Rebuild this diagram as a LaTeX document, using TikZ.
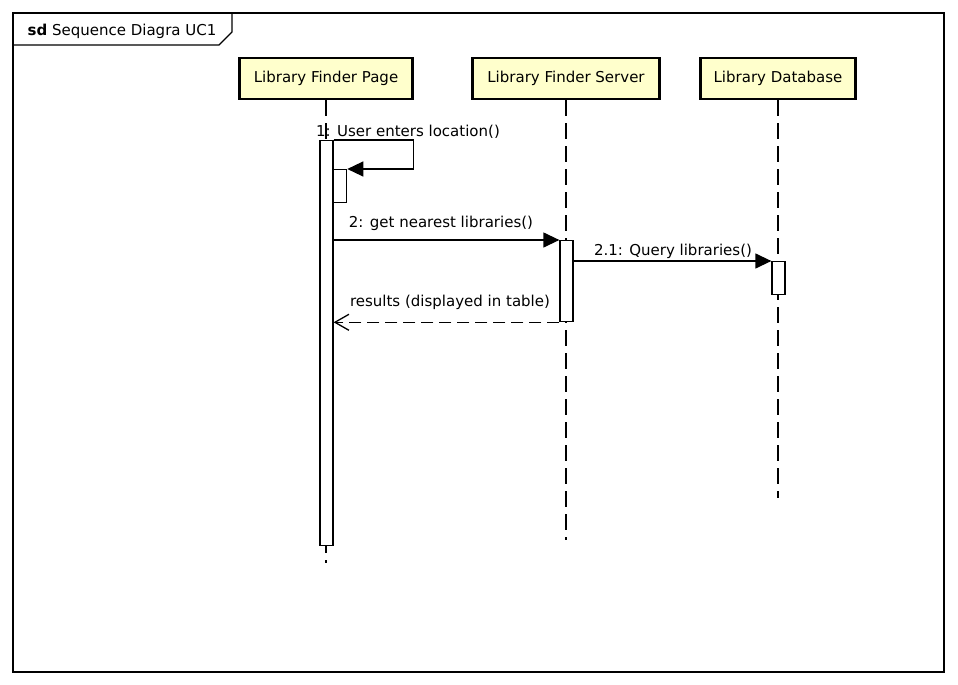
\documentclass[tikz,border=0pt]{standalone}
\usepackage{fontspec}
\setmainfont{DejaVu Sans}
\usepackage{xcolor}
\usetikzlibrary{arrows.meta}
\definecolor{kopgeel}{RGB}{255,255,204}
\tikzstyle{kop} = [rectangle, draw, line width=2.6pt, fill=kopgeel,
minimum height=41pt, inner sep=0pt, font=\fontsize{15}{18}\selectfont]
\tikzstyle{activatie} = [rectangle, draw, fill=white, line width=1.3pt,
minimum width=13pt, inner sep=0pt]
\tikzstyle{levenslijn} = [draw, line width=1.3pt, dash pattern=on 16pt off 7pt]
\tikzstyle{pijltje} = [draw, line width=1.3pt, -{Triangle[length=16pt,width=15pt]}]
\tikzstyle{terug} = [draw, line width=1.3pt, dash pattern=on 12pt off 6pt,
-{Straight Barb[length=14pt,width=16pt,line width=1.3pt]}]
\tikzstyle{bericht} = [inner sep=0pt, font=\fontsize{15}{18}\selectfont]

\begin{document}
\begin{tikzpicture}[x=1pt, y=-1pt]
	\useasboundingbox (0,0) rectangle (958,685);
	\draw [line width=1.3pt] (13,13) rectangle (944,672);
	\draw [line width=1.3pt] (13,45) -- (219,45) -- (232,32) -- (232,13);
	\node [bericht] (kader) at (122,31) {\textbf{sd} Sequence Diagra UC1};
	
	
	\node [kop, minimum width=173pt] (page) at (326,78.5) {Library Finder Page};
	\node [kop, minimum width=187pt] (server) at (566,78.5) {Library Finder Server};
	\node [kop, minimum width=155pt] (database) at (778,78.5) {Library Database};
	
	\coordinate (pageend) at (326,563);
	\coordinate (serverend) at (566,540);
	\coordinate (databaseend) at (778,498);
	
	\path [levenslijn] (page)--(pageend);
	\path [levenslijn] (server)--(serverend);
	\path [levenslijn] (database)--(databaseend);
	
	
	\node [activatie, minimum height=405pt, anchor=north] (pageact) at (326.5,140) {};
	\node [activatie, minimum height=33pt, anchor=north west] (selfact) at (333,169) {};
	\node [activatie, minimum height=81pt, anchor=north] (serveract) at (566.5,240) {};
	\node [activatie, minimum height=33pt, anchor=north] (databaseact) at (778.5,261) {};
	
	
	\path [pijltje] (pageact.north east) -- ++(80,0) |- (selfact.north east);
	\path [pijltje] (pageact.east |- serveract.north) -- (serveract.north west);
	\path [pijltje] (serveract.east |- databaseact.north) -- (databaseact.north west);
	\path [terug] (serveract.south west) -- (pageact.east |- serveract.south);
	
	
	\node [bericht] (msgone) at (408,132) {1: User enters location()};
	\node [bericht] (msgtwo) at (441,223) {2: get nearest libraries()};
	\node [bericht] (msgquery) at (673,251) {2.1: Query libraries()};
	\node [bericht] (msgresults) at (450,302) {results (displayed in table)};
\end{tikzpicture}
\end{document}
